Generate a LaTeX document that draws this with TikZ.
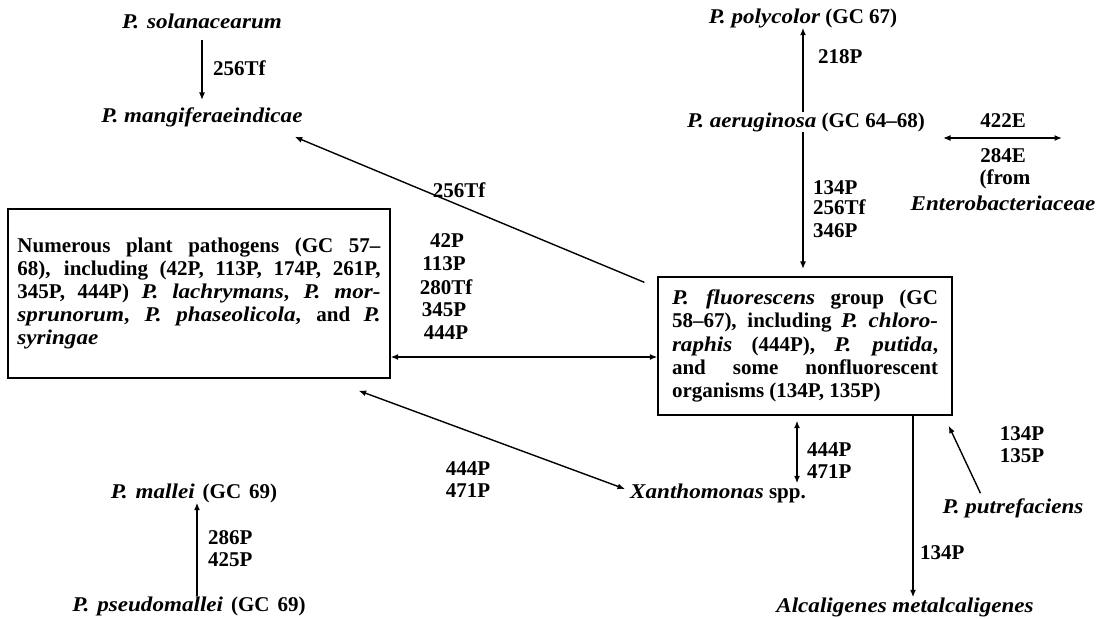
\documentclass[tikz,border=0pt]{standalone}
\usepackage{fontspec}
\setmainfont{Liberation Serif}[ItalicFeatures={FakeStretch=1.1},BoldItalicFeatures={FakeStretch=1.1}]
\usetikzlibrary{arrows.meta,calc}
\newlength{\jw}
\newcommand{\jl}[1]{\makebox[\jw][s]{#1}}
\newcommand{\wsp}{\hspace{8bp}}
\begin{document}
\begin{tikzpicture}[x=1bp,y=-1bp,
  lbl/.style={font=\fontsize{21bp}{22bp}\selectfont\bfseries, inner sep=0pt},
  sp/.style={font=\fontsize{21bp}{22bp}\selectfont\bfseries\itshape, inner sep=0pt},
  con/.style={line width=1.4bp},
  arr/.style={con, -{Latex[length=7.5bp,width=6bp]}},
  darr/.style={con, {Latex[length=7.5bp,width=6bp]}-{Latex[length=7.5bp,width=6bp]}},
  box/.style={draw, line width=1.3bp, inner sep=0pt, align=left,
    font=\fontsize{21bp}{23.2bp}\selectfont\bfseries}]
\useasboundingbox (0,0) rectangle (1096,619);

% species and groups
\node[sp] (sol) at (202,21) {P.\wsp solanacearum};
\node[sp] (mang) at (202,117) {P. mangiferaeindicae};
\node[lbl] (poly) at (803,18) {\textit{P. polycolor} (GC 67)};
\node[lbl] (aer) at (806,122) {\textit{P. aeruginosa} (GC 64--68)};
\node[lbl] (xan) at (718,493) {\textit{Xanthomonas} spp.};
\node[lbl] (alc) at (905,607) {\textit{Alcaligenes metalcaligenes}};
\node[lbl] (put) at (1013,508) {\textit{P. putrefaciens}};
\node[lbl] (mal) at (194,493) {\textit{P.\wsp mallei}\wsp (GC\wsp 69)};
\node[lbl] (pse) at (189,606) {\textit{P.\wsp pseudomallei}\wsp (GC\wsp 69)};

% the two boxed groups
\setlength{\jw}{363bp}
\node[box, minimum width=382bp, minimum height=169bp] (lbox) at (199,293.5) {%
  \jl{Numerous plant pathogens (GC 57--}\\
  \jl{68), including (42P, 113P, 174P, 261P,}\\
  \jl{345P, 444P) \textit{P. lachrymans}, \textit{P. mor-}}\\
  \jl{\textit{sprunorum}, \textit{P. phaseolicola}, and \textit{P.}}\\
  \textit{syringae}};
\setlength{\jw}{266bp}
\node[box, minimum width=294bp, minimum height=138bp] (rbox) at (805,346) {%
  \jl{\textit{P. fluorescens} group (GC}\\
  \jl{58--67), including \textit{P. chloro-}}\\
  \jl{\textit{raphis} (444P), \textit{P. putida},}\\
  \jl{and some nonfluorescent}\\
  organisms (134P, 135P)};

% free ends of the enterobacterial exchange
\coordinate (eL) at (943,138);
\coordinate (eR) at (1062,138);

% connectors
\draw[arr] (sol.south |- 0,40) -- (mang.north |- 0,100);
\draw[arr] (803,0 |- aer.north) -- (803,0 |- poly.south);
\draw[arr] (803,0 |- aer.south) -- (803,269);
\draw[darr] (eL) -- (eR);
\draw[arr] ($(rbox.north west)+(-13,6)$) -- ($(mang.south east)+(-8,10)$);
\draw[darr] (lbox.east |- 0,357) -- (rbox.west |- 0,357);
\draw[darr] ($(lbox.south east)+(-32,12)$) -- ($(xan.west)+(-5,-4)$);
\draw[darr] ($(rbox.south)+(-8,5)$) -- (797,0 |- xan.north);
\draw[arr] (913,0 |- rbox.south) -- (913,0 |- alc.north);
\draw[arr] ($(put.north west)+(38,-5)$) -- ($(rbox.south east)+(-4,10)$);
\draw[arr] (197,0 |- pse.north) -- (197,0 |- mal.south);

% transfer labels
\node[lbl, anchor=west] at (213,68) {256Tf};
\node[lbl, anchor=west] at (818,57) {218P};
\node[lbl] at (1003,121) {422E};
\node[lbl] at (1003,156) {284E};
\node[lbl] at (1005,179) {(from};
\node[sp] at (1003,203) {Enterobacteriaceae};
\node[lbl, anchor=west] at (813,188) {134P};
\node[lbl, anchor=west] at (813,207) {256Tf};
\node[lbl, anchor=west] at (813,231) {346P};
\node[lbl] at (459,190) {256Tf};
\node[lbl] at (447,241) {42P};
\node[lbl] at (444,264) {113P};
\node[lbl] at (446,287) {280Tf};
\node[lbl] at (444,310) {345P};
\node[lbl] at (446,333) {444P};
\node[lbl] at (468,469) {444P};
\node[lbl] at (468,491) {471P};
\node[lbl, anchor=west] at (807,450) {444P};
\node[lbl, anchor=west] at (807,472) {471P};
\node[lbl, anchor=west] at (920,553) {134P};
\node[lbl] at (1022,434) {134P};
\node[lbl] at (1022,456) {135P};
\node[lbl, anchor=west] at (208,538) {286P};
\node[lbl, anchor=west] at (208,560) {425P};
\end{tikzpicture}
\end{document}
